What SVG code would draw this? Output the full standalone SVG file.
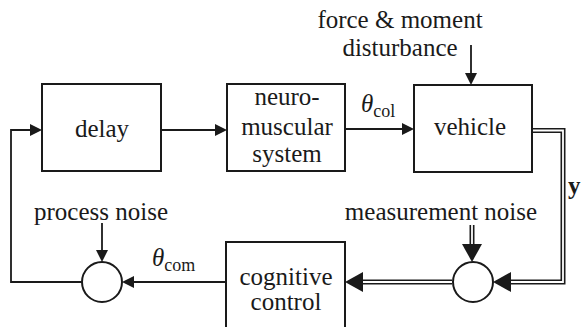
<svg xmlns="http://www.w3.org/2000/svg" width="582" height="327" viewBox="0 0 582 327">
<style>
  .box { fill: #fff; stroke: #1a1a1a; stroke-width: 2; }
  .sum { fill: #fff; stroke: #1a1a1a; stroke-width: 2; }
  .ln { fill: none; stroke: #1a1a1a; stroke-width: 1.8; }
  .dbo { fill: none; stroke: #1a1a1a; stroke-width: 5; stroke-linejoin: miter; }
  .dbi { fill: none; stroke: #fff; stroke-width: 1.8; stroke-linejoin: miter; }
  text { font-family: "Liberation Serif", "DejaVu Serif", "Times New Roman", Times, serif; font-size: 25px; fill: #1a1a1a; }
  .c { text-anchor: middle; }
  .sym { font-style: italic; }
  .sub { font-size: 18px; }
  .bold { font-weight: bold; }
</style>
<defs>
  <marker id="arr" markerUnits="userSpaceOnUse" viewBox="0 -6 12 12" markerWidth="12" markerHeight="12" refX="0" refY="0" orient="auto" overflow="visible">
    <path d="M0,-6 L12,0 L0,6 z" fill="#1a1a1a"/>
  </marker>
  <marker id="arr2" markerUnits="userSpaceOnUse" viewBox="0 -10 18 20" markerWidth="18" markerHeight="20" refX="0" refY="0" orient="auto" overflow="visible">
    <path d="M0,-10 L18,0 L0,10 z" fill="#1a1a1a"/>
  </marker>
</defs>

<g id="connectors">
  <path class="ln" d="M161,130 H215" marker-end="url(#arr)"/>
  <path class="ln" d="M345,129 H402" marker-end="url(#arr)"/>
  <path class="ln" d="M471,45 V73" marker-end="url(#arr)"/>
  <path class="ln" d="M102,223 V250" marker-end="url(#arr)"/>
  <path class="ln" d="M226,282 H134" marker-end="url(#arr)"/>
  <path class="ln" d="M82,282 H11 V130 H30" marker-end="url(#arr)"/>
  <path class="dbo" d="M532,130.5 H563 V282 H511" marker-end="url(#arr2)"/>
  <path class="dbi" d="M532,130.5 H563 V282 H511"/>
  <path class="dbo" d="M472,225 V244" marker-end="url(#arr2)"/>
  <path class="dbi" d="M472,225 V244"/>
  <path class="dbo" d="M452,282 H363" marker-end="url(#arr2)"/>
  <path class="dbi" d="M453,282 H363"/>
</g>

<g id="delay">
  <rect class="box" x="42" y="84" width="119" height="87"/>
  <text class="c" x="102" y="137" font-family="Liberation Serif">delay</text>
</g>
<g id="neuromuscular">
  <rect class="box" x="227" y="84" width="118" height="87"/>
  <text class="c" x="287" y="105" font-family="Liberation Serif">neuro-</text>
  <text class="c" x="287" y="135" font-family="Liberation Serif">muscular</text>
  <text class="c" x="287" y="162" font-family="Liberation Serif">system</text>
</g>
<g id="vehicle">
  <rect class="box" x="414" y="85" width="118" height="87"/>
  <text class="c" x="470" y="135" font-family="Liberation Serif">vehicle</text>
</g>
<g id="cognitive-control">
  <rect class="box" x="226" y="242" width="119" height="100"/>
  <text class="c" x="286" y="285" font-family="Liberation Serif">cognitive</text>
  <text class="c" x="286" y="310" font-family="Liberation Serif">control</text>
</g>
<g id="sum-process">
  <circle class="sum" cx="102" cy="282" r="20"/>
</g>
<g id="sum-measurement">
  <circle class="sum" cx="473" cy="282" r="20"/>
</g>

<g id="labels">
  <text class="c" x="400" y="28" font-family="Liberation Serif">force &amp; moment</text>
  <text class="c" x="400" y="56" font-family="Liberation Serif">disturbance</text>
  <text x="361" y="112" font-family="Liberation Serif"><tspan class="sym">θ</tspan><tspan class="sub" dy="5">col</tspan></text>
  <text x="152" y="266" font-family="Liberation Serif"><tspan class="sym">θ</tspan><tspan class="sub" dy="5">com</tspan></text>
  <text class="c" x="101" y="220" font-family="Liberation Serif">process noise</text>
  <text class="c" x="441" y="220" font-family="Liberation Serif">measurement noise</text>
  <text class="bold" x="568" y="194" font-family="Liberation Serif">y</text>
</g>
</svg>
